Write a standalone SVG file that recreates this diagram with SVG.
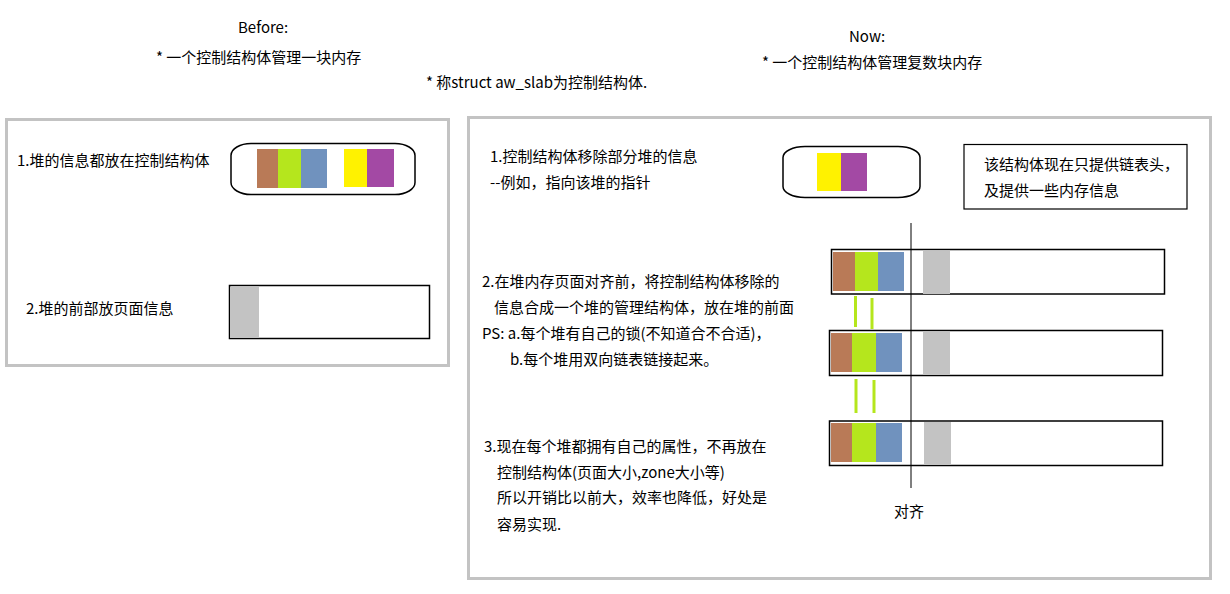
<svg xmlns="http://www.w3.org/2000/svg" width="1230" height="594" viewBox="0 0 1230 594">
<style>
text{font-family:"Noto Sans CJK SC","Liberation Sans",sans-serif;fill:#000;}
.t15{font-size:15px;}
.panel{fill:none;stroke:#c3c3c3;stroke-width:3;}
.shape{fill:#fff;stroke:#000;stroke-width:1.5;}
.br{fill:#b97a57;}
.gr{fill:#b5e61d;}
.bl{fill:#7092be;}
.ye{fill:#fff200;}
.pu{fill:#a349a4;}
.gy{fill:#c3c3c3;}
.dash{stroke:#b5e61d;stroke-width:3;}
</style>
<rect width="1230" height="594" fill="#fff"/>

<g id="titles">
<text class="t15" x="238" y="33">Before:</text>
<text class="t15" x="156" y="63">* 一个控制结构体管理一块内存</text>
<text class="t15" x="426" y="88">* 称struct aw_slab为控制结构体.</text>
<text class="t15" x="849" y="42">Now:</text>
<text class="t15" x="762" y="68">* 一个控制结构体管理复数块内存</text>
</g>

<g id="panel-before">
<rect class="panel" x="6.5" y="119.5" width="442" height="246"/>
</g>
<g id="panel-now">
<rect class="panel" x="468.5" y="117.5" width="742" height="461"/>
</g>

<g id="before-item1">
<text class="t15" x="17" y="166">1.堆的信息都放在控制结构体</text>
<rect class="shape" x="231" y="143.5" width="184" height="51" rx="20" ry="12"/>
<rect class="br" x="257" y="149" width="21" height="39"/>
<rect class="gr" x="278" y="149" width="23" height="39"/>
<rect class="bl" x="301" y="149" width="26" height="39"/>
<rect class="ye" x="344" y="149" width="23" height="38"/>
<rect class="pu" x="367" y="149" width="27" height="38"/>
</g>

<g id="before-item2">
<text class="t15" x="26" y="314">2.堆的前部放页面信息</text>
<rect class="shape" x="229.5" y="285.5" width="200" height="53"/>
<rect class="gy" x="230" y="287" width="29" height="51"/>
</g>

<g id="now-item1">
<text class="t15" x="490" y="162">1.控制结构体移除部分堆的信息</text>
<text class="t15" x="490" y="188">--例如，指向该堆的指针</text>
<rect class="shape" x="783" y="146.5" width="137" height="51" rx="22" ry="11"/>
<rect class="ye" x="817" y="153" width="24" height="38"/>
<rect class="pu" x="841" y="153" width="26" height="38"/>
</g>

<g id="note">
<rect class="shape" x="964" y="144.5" width="223" height="64.5" style="stroke-width:1.2"/>
<text class="t15" x="984" y="170">该结构体现在只提供链表头，</text>
<text class="t15" x="984" y="196">及提供一些内存信息</text>
</g>

<g id="now-item2">
<text class="t15" x="482" y="287">2.在堆内存页面对齐前，将控制结构体移除的</text>
<text class="t15" x="494" y="313">信息合成一个堆的管理结构体，放在堆的前面</text>
<text class="t15" x="482" y="339">PS: a.每个堆有自己的锁(不知道合不合适)，</text>
<text class="t15" x="510" y="365">b.每个堆用双向链表链接起来。</text>
</g>

<g id="now-item3">
<text class="t15" x="484" y="452">3.现在每个堆都拥有自己的属性，不再放在</text>
<text class="t15" x="497" y="478">控制结构体(页面大小,zone大小等)</text>
<text class="t15" x="497" y="503">所以开销比以前大，效率也降低，好处是</text>
<text class="t15" x="497" y="530">容易实现.</text>
</g>

<g id="heap1">
<rect class="shape" x="831.5" y="249.5" width="333" height="44.5"/>
<rect class="br" x="833" y="252" width="22" height="39"/>
<rect class="gr" x="855" y="252" width="23" height="39"/>
<rect class="bl" x="878" y="252" width="26" height="39"/>
<rect class="gy" x="923" y="251" width="27" height="43"/>
</g>

<g id="heap2">
<rect class="shape" x="829.5" y="330.5" width="333" height="45"/>
<rect class="br" x="831" y="333" width="21" height="39"/>
<rect class="gr" x="852" y="333" width="24" height="39"/>
<rect class="bl" x="876" y="333" width="26" height="39"/>
<rect class="gy" x="923" y="332" width="27" height="43"/>
</g>

<g id="heap3">
<rect class="shape" x="829.5" y="421" width="333" height="44.5"/>
<rect class="br" x="831" y="423" width="21" height="39"/>
<rect class="gr" x="852" y="423" width="24" height="39"/>
<rect class="bl" x="876" y="423" width="26" height="39"/>
<rect class="gy" x="924" y="422" width="27" height="43"/>
</g>

<g id="align">
<line x1="911" y1="223" x2="911" y2="488" stroke="#000" stroke-width="1"/>
<text class="t15" x="894" y="517">对齐</text>
</g>

<g id="connectors">
<line class="dash" x1="855.5" y1="296" x2="855.5" y2="327"/>
<line class="dash" x1="872" y1="298" x2="872" y2="329"/>
<line class="dash" x1="856" y1="379" x2="856" y2="413"/>
<line class="dash" x1="874" y1="380" x2="874" y2="413"/>
</g>
</svg>
